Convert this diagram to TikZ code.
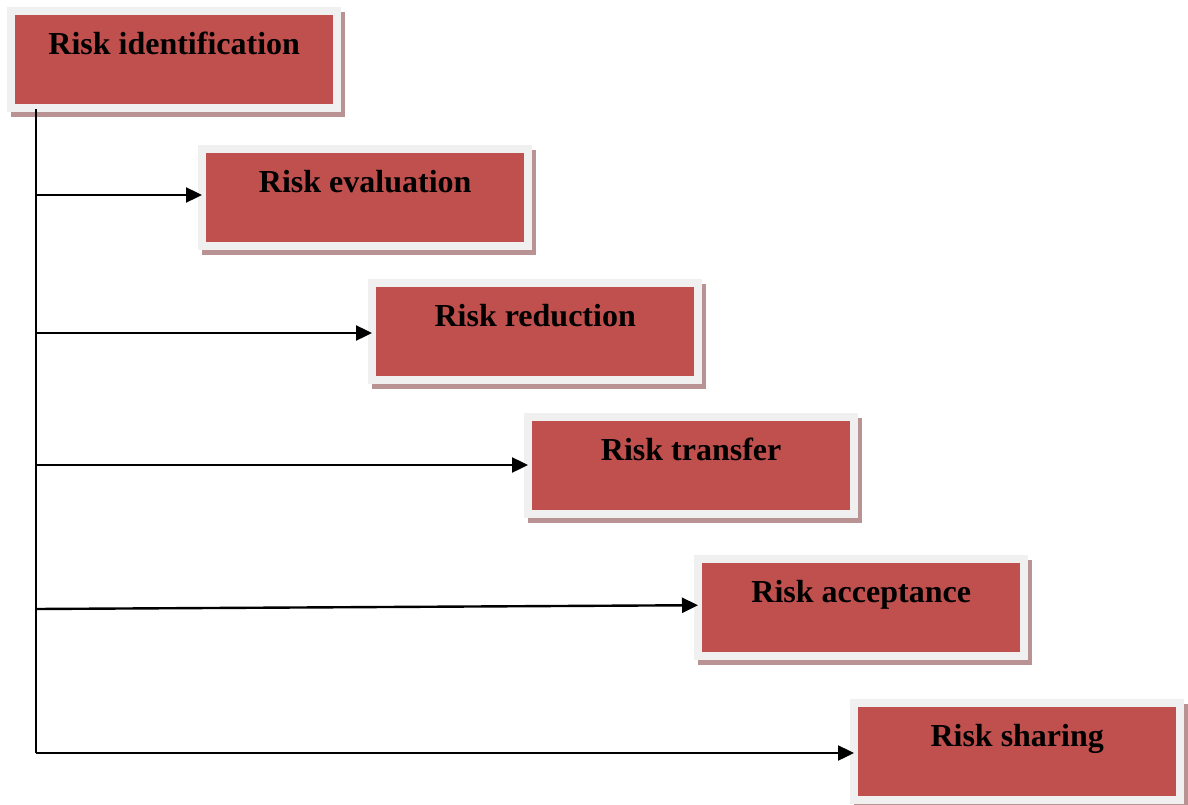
\documentclass[tikz,border=0pt]{standalone}
\usepackage{fontspec}
\setmainfont{Liberation Serif}
\usetikzlibrary{arrows.meta,shadows}
\definecolor{riskred}{HTML}{C0504D}
\definecolor{framegray}{HTML}{F0F0F0}
\definecolor{shadowrose}{HTML}{B99294}
\begin{document}
\begin{tikzpicture}[x=1pt,y=-1pt,
  stage/.style={anchor=north west, rectangle, inner sep=0pt,
    minimum width=334pt, text height=47pt, text depth=58pt,
    fill=framegray,
    drop shadow={shadow xshift=3.5pt, shadow yshift=-4.5pt, fill=shadowrose, opacity=1},
    path picture={\fill[riskred]
      ([shift={(8pt,-8pt)}]path picture bounding box.north west) rectangle
      ([shift={(-8pt,8pt)}]path picture bounding box.south east);},
    font=\fontsize{32}{38}\selectfont\bfseries},
  link/.style={line width=2.4pt, black},
  arr/.style={link, -{Triangle[length=16pt,width=15pt]}}]
\useasboundingbox (0,0) rectangle (1188,805);

% junction points along the trunk
\coordinate (tend) at (36,753);
\coordinate (j2) at (36,195);
\coordinate (j3) at (36,333);
\coordinate (j4) at (36,465);
\coordinate (j5) at (36,609);

\node[stage] (b1) at (7,7)     {Risk identification};
\node[stage] (b2) at (198,145) {Risk evaluation};
\node[stage] (b3) at (368,279) {Risk reduction};
\node[stage] (b4) at (524,413) {Risk transfer};
\node[stage] (b5) at (694,555) {Risk acceptance};
\node[stage] (b6) at (850,699) {Risk sharing};

\draw[link] ([xshift=29pt,yshift=3pt]b1.south west) -- (tend);
\draw[arr] (j2) -- ([xshift=4pt]b2.west |- j2);
\draw[arr] (j3) -- ([xshift=4pt]b3.west |- j3);
\draw[arr] (j4) -- ([xshift=4pt]b4.west |- j4);
\draw[arr] (j5) -- ([xshift=4pt,yshift=2.5pt]b5.west);
\draw[arr] (tend) -- ([xshift=4pt]b6.west |- tend);
\end{tikzpicture}
\end{document}
